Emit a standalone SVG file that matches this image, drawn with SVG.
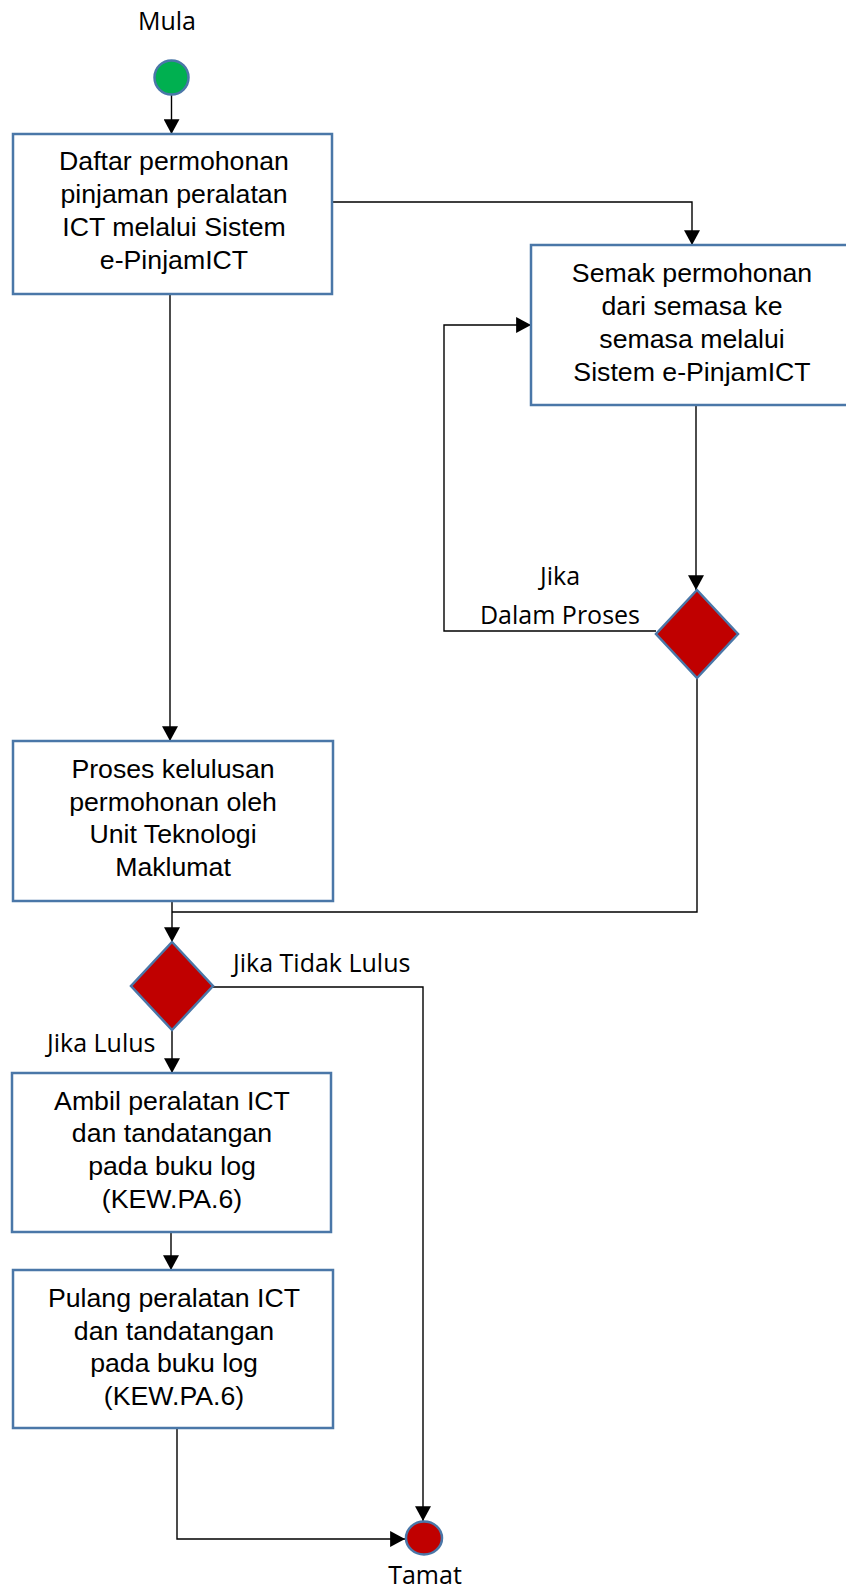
<svg xmlns="http://www.w3.org/2000/svg" width="846" height="1591" viewBox="0 0 846 1591">
<style>
.box{fill:#fff;stroke:#4A77A8;stroke-width:2.5}
.dia{fill:#C00000;stroke:#4A77A8;stroke-width:2.5}
.t{font-family:"Liberation Sans",Arial,sans-serif;font-size:26.7px;fill:#000;text-anchor:middle}
.lbl{font-family:"Open Sans","Noto Sans",sans-serif;font-size:25px;fill:#000}
.c{fill:none;stroke:#000;stroke-width:1.4;marker-end:url(#ah)}
.cn{fill:none;stroke:#000;stroke-width:1.4}
</style>
<defs>
<marker id="ah" markerUnits="userSpaceOnUse" markerWidth="16" markerHeight="16" viewBox="0 0 14 14" refX="13" refY="7" orient="auto">
<path d="M0,0 L13,7 L0,14 Z" fill="#000"/>
</marker>
</defs>

<g id="connectors">
<path class="c" d="M171.5,95 V134"/>
<path class="c" d="M332,202 H692 V245"/>
<path class="c" d="M170,294 V741"/>
<path class="c" d="M696,405 V590"/>
<path class="c" d="M656,631 H444 V325 H531"/>
<path class="cn" d="M697,678 V912 H172"/>
<path class="c" d="M172,901 V942"/>
<path class="c" d="M213,987 H423 V1521"/>
<path class="c" d="M172,1030 V1073"/>
<path class="c" d="M171,1232 V1270"/>
<path class="c" d="M177,1428 V1539 H405"/>
</g>

<g id="start">
<text class="lbl" x="167" y="30" text-anchor="middle">Mula</text>
<circle cx="171.5" cy="77.5" r="17" fill="#00B050" stroke="#4A77A8" stroke-width="2.5"/>
</g>

<g id="box1">
<rect class="box" x="13" y="134" width="319" height="160"/>
<text class="t" x="174" y="170">Daftar permohonan</text>
<text class="t" x="174" y="203">pinjaman peralatan</text>
<text class="t" x="174" y="236">ICT melalui Sistem</text>
<text class="t" x="174" y="269">e-PinjamICT</text>
</g>

<g id="box2">
<rect class="box" x="531" y="245" width="330" height="160"/>
<text class="t" x="692" y="282">Semak permohonan</text>
<text class="t" x="692" y="315">dari semasa ke</text>
<text class="t" x="692" y="348">semasa melalui</text>
<text class="t" x="692" y="381">Sistem e-PinjamICT</text>
</g>

<g id="decision1">
<polygon class="dia" points="697,590 738,634 697,678 656,634"/>
<text class="lbl" x="560" y="585" text-anchor="middle">Jika</text>
<text class="lbl" x="560" y="624" text-anchor="middle">Dalam Proses</text>
</g>

<g id="box3">
<rect class="box" x="13" y="741" width="320" height="160"/>
<text class="t" x="173" y="778">Proses kelulusan</text>
<text class="t" x="173" y="811">permohonan oleh</text>
<text class="t" x="173" y="843">Unit Teknologi</text>
<text class="t" x="173" y="876">Maklumat</text>
</g>

<g id="decision2">
<polygon class="dia" points="172,942 213,986 172,1030 131,986"/>
<text class="lbl" x="233" y="972">Jika Tidak Lulus</text>
<text class="lbl" x="47" y="1052">Jika Lulus</text>
</g>

<g id="box4">
<rect class="box" x="12" y="1073" width="319" height="159"/>
<text class="t" x="172" y="1110">Ambil peralatan ICT</text>
<text class="t" x="172" y="1142">dan tandatangan</text>
<text class="t" x="172" y="1175">pada buku log</text>
<text class="t" x="172" y="1208">(KEW.PA.6)</text>
</g>

<g id="box5">
<rect class="box" x="13" y="1270" width="320" height="158"/>
<text class="t" x="174" y="1307">Pulang peralatan ICT</text>
<text class="t" x="174" y="1340">dan tandatangan</text>
<text class="t" x="174" y="1372">pada buku log</text>
<text class="t" x="174" y="1405">(KEW.PA.6)</text>
</g>

<g id="end">
<ellipse cx="424" cy="1538" rx="18" ry="16.5" fill="#C00000" stroke="#4A77A8" stroke-width="2.5"/>
<text class="lbl" x="425" y="1584" text-anchor="middle">Tamat</text>
</g>
</svg>
